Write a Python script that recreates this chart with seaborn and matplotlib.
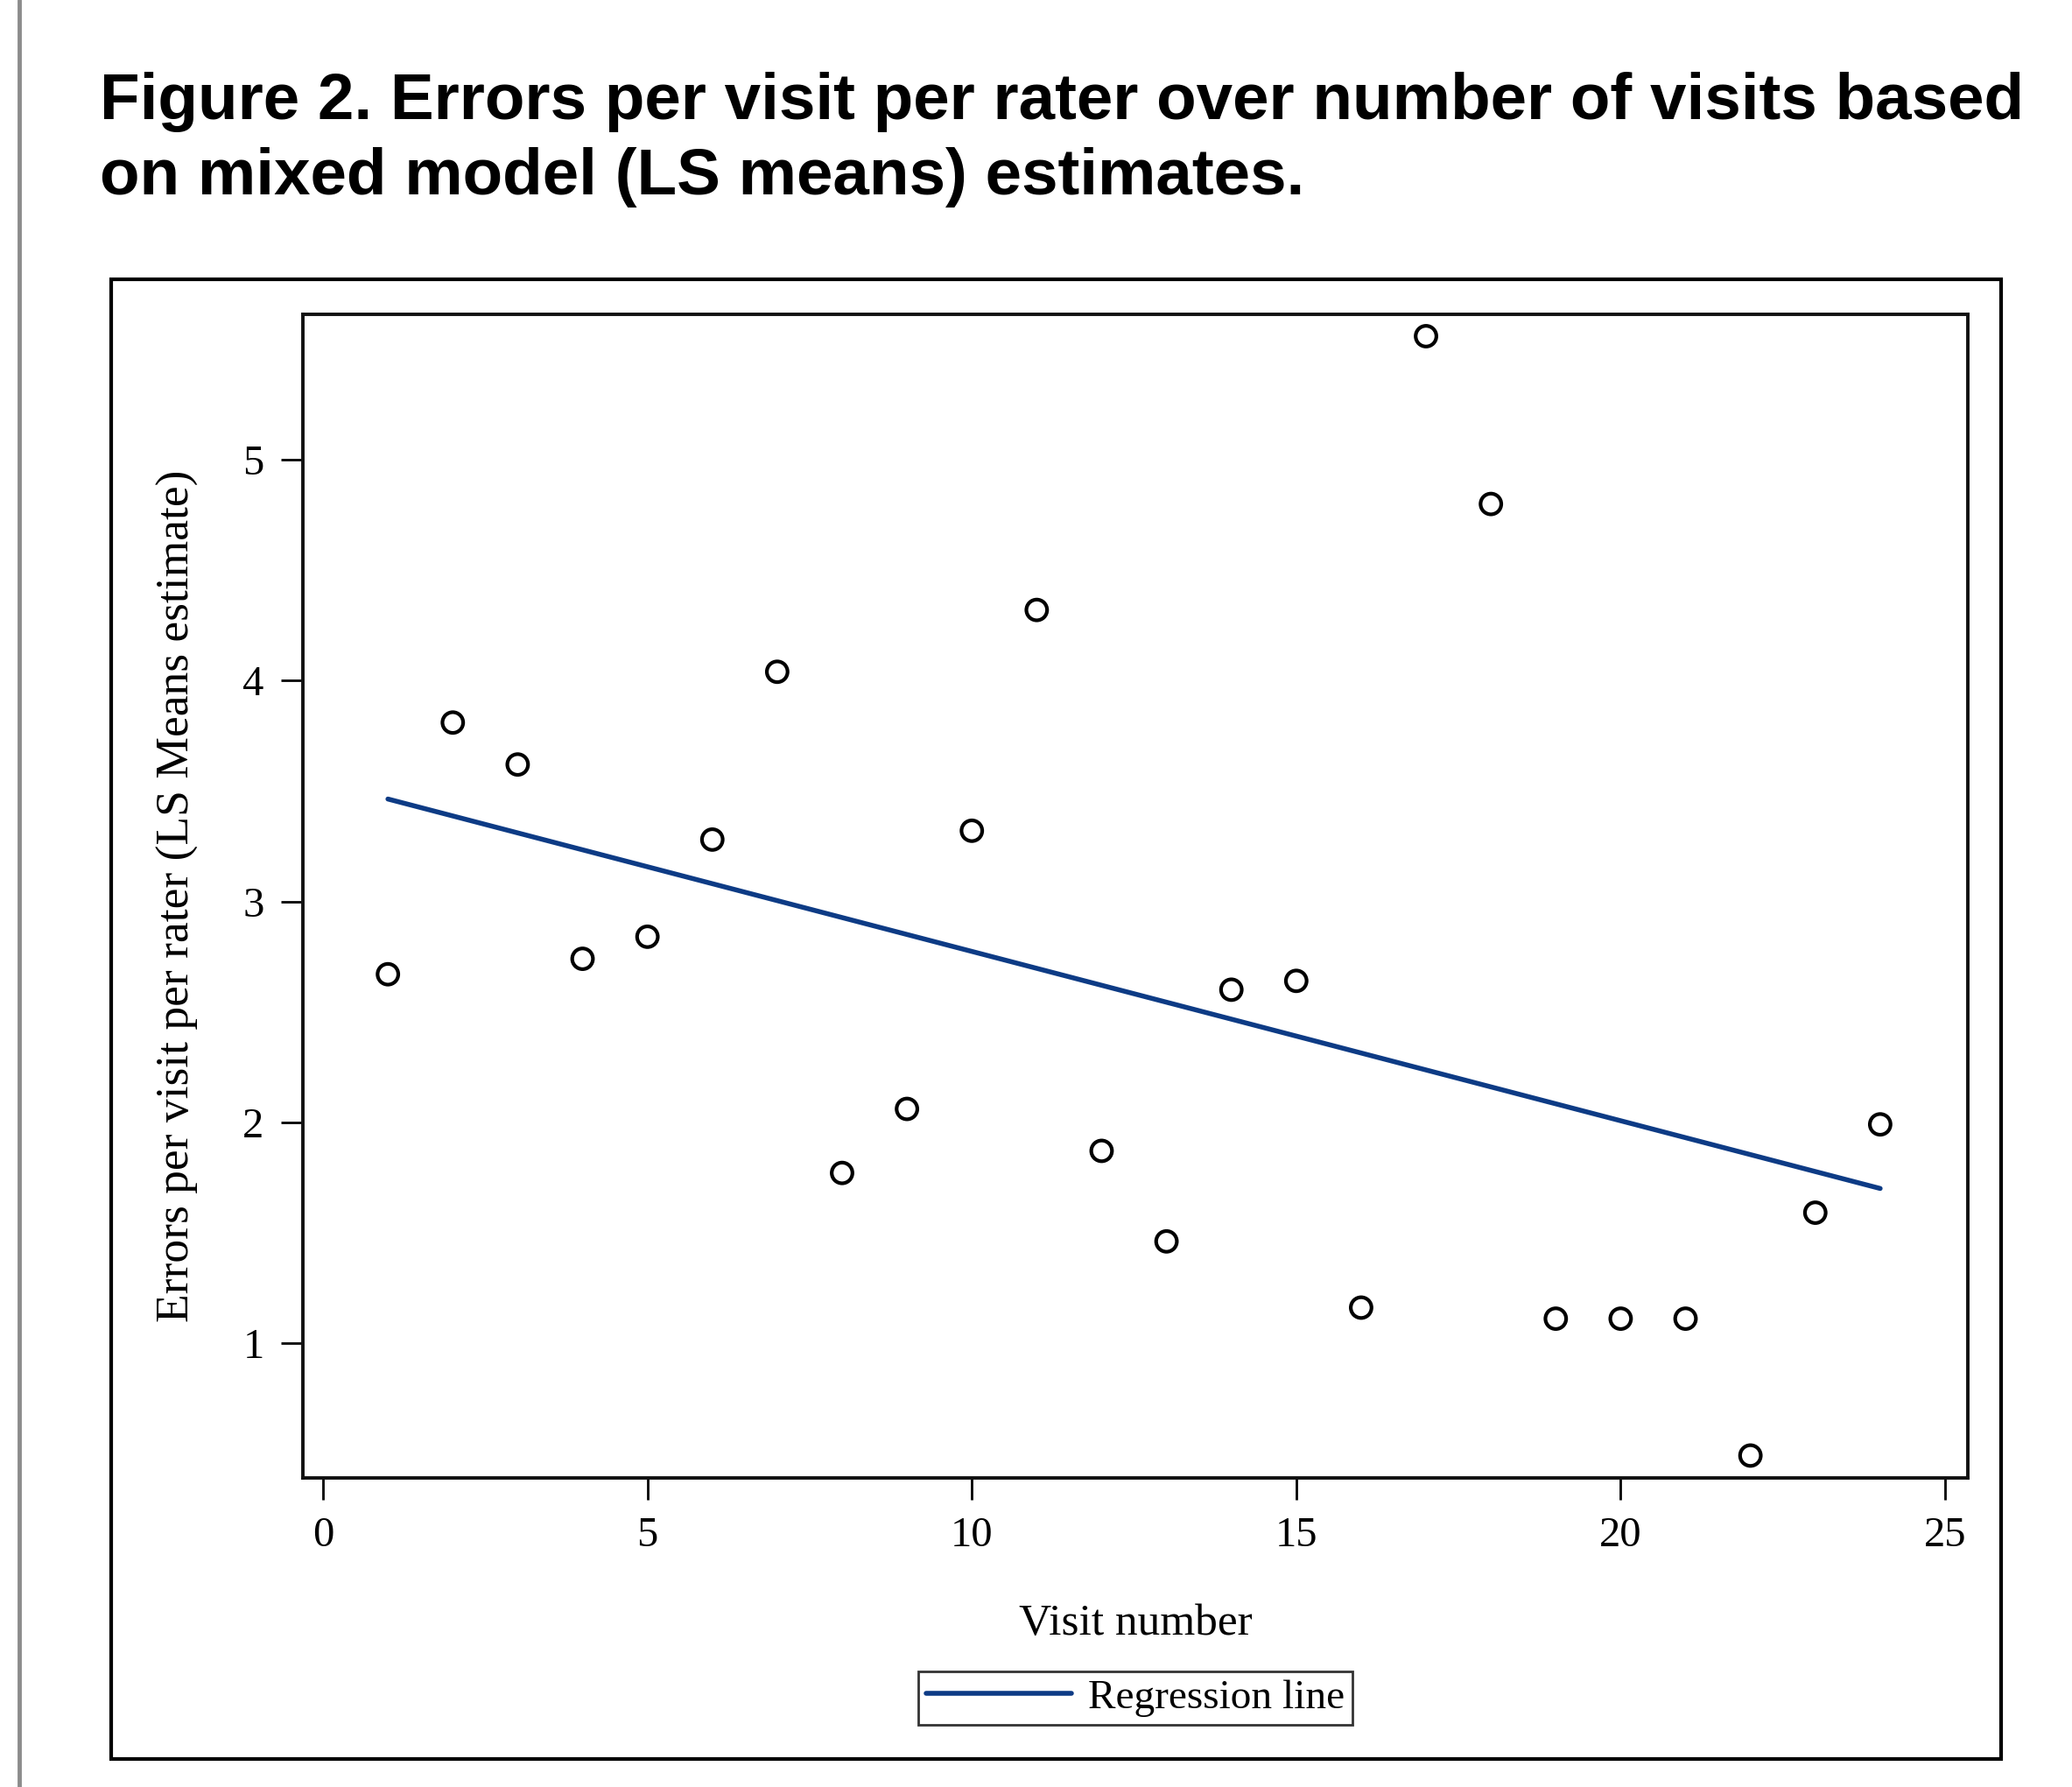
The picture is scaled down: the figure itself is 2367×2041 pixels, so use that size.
import numpy as np
import pandas as pd
import matplotlib
matplotlib.use("Agg")
import matplotlib.pyplot as plt
import matplotlib.patches as mpatches
from matplotlib.lines import Line2D
import seaborn as sns

# ── Data ──────────────────────────────────────────────────────────────────────
visit_number = list(range(1, 25))
errors_ls_mean = [2.67, 3.81, 3.62, 2.74, 2.84, 3.28, 4.04, 1.77, 2.06, 3.32,
                  4.32, 1.87, 1.46, 2.60, 2.64, 1.16, 5.56, 4.80, 1.11, 1.11,
                  1.11, 0.49, 1.59, 1.99]
x_ticks = [0, 5, 10, 15, 20, 25]
y_ticks = [1, 2, 3, 4, 5]

TITLE = ("Figure 2. Errors per visit per rater over number of visits based\n"
         "on mixed model (LS means) estimates.")
LINE_COLOR = "#0d3b85"

df = pd.DataFrame({"visit": visit_number, "errors": errors_ls_mean})

# ── Style ─────────────────────────────────────────────────────────────────────
sns.set_style("white")
plt.rcParams.update({
    "font.family": ["Liberation Serif", "DejaVu Serif"],
    "text.color": "black",
    "axes.labelcolor": "black",
    "xtick.color": "black",
    "ytick.color": "black",
})

fig = plt.figure(figsize=(23.67, 20.41), dpi=100)
ax = fig.add_axes([0.1462, 0.1730, 0.8035, 0.6511])

sns.regplot(data=df, x="visit", y="errors", ax=ax, scatter=False, ci=None,
            line_kws={"color": LINE_COLOR, "linewidth": 4})
sns.scatterplot(data=df, x="visit", y="errors", ax=ax, s=290,
                facecolor="none", edgecolor="black", linewidth=3, zorder=3)

ax.set_xlim(-0.31, 25.35)
ax.set_ylim(0.389, 5.659)
ax.set_xticks(x_ticks)
ax.set_yticks(y_ticks)
ax.tick_params(axis="both", direction="out", length=18, width=2,
               labelsize=35, color="black", pad=14, left=True, bottom=True)
for sp in ax.spines.values():
    sp.set_linewidth(2.8)
    sp.set_color("#111111")

ax.set_xlabel("Visit number", fontsize=37, labelpad=40)
ax.set_ylabel("Errors per visit per rater (LS Means estimate)", fontsize=38.5,
              labelpad=36)

handle = Line2D([0], [0], color=LINE_COLOR, linewidth=4)
leg = ax.legend([handle], ["Regression line"], loc="upper center",
                bbox_to_anchor=(0.5, -0.166), frameon=True, fancybox=False,
                fontsize=34, handlelength=3.5, borderpad=0.2,
                handletextpad=0.4, borderaxespad=0)
leg.get_frame().set_edgecolor("black")
leg.get_frame().set_linewidth(2)

# outer frame around the graph
fig.patches.append(mpatches.Rectangle((0.0537, 0.0157), 0.9121, 0.8280,
                                      transform=fig.transFigure, fill=False,
                                      edgecolor="black", linewidth=3))
# grey page margin line on the left
fig.add_artist(Line2D([0.0095, 0.0095], [0, 1], transform=fig.transFigure,
                      color="#8c8c8c", linewidth=3.5))

fig.text(0.048, 0.960, TITLE, fontsize=53.7, fontweight="bold",
         family=["Liberation Sans", "DejaVu Sans"], va="top", ha="left",
         linespacing=1.33, color="black")

fig.savefig("out.png", dpi=100)
